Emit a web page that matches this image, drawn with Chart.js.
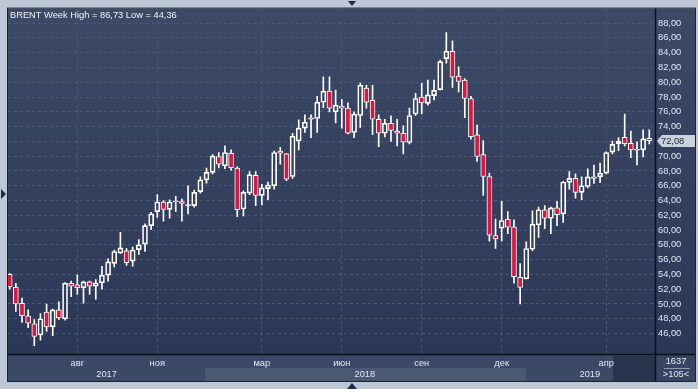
<!DOCTYPE html>
<html>
<head>
<meta charset="utf-8">
<script src="https://cdn.jsdelivr.net/npm/chart.js@4.4.0/dist/chart.umd.min.js"></script>
<style>
    html, body { margin: 0; padding: 0; background: #bdc7d5; }
    #wrap { width: 698px; height: 389px; }
</style>
</head>
<body>
<div id="wrap"><canvas id="brentChart" width="698" height="389"></canvas></div>
<script>
// ==================== BRENT WEEKLY (May 2017 - May 2019) ====================

const opens = [54.0, 52.3, 50.1, 48.4, 47.3, 45.8, 48.9, 46.9, 49.2, 48.0,
    52.8, 52.6, 52.2, 53.0, 52.4, 52.85, 53.9, 55.5, 56.9, 57.2,
    55.8, 57.35, 58.1, 60.6, 62.5, 63.8, 62.8, 63.8, 63.85, 63.3,
    63.3, 65.2, 66.8, 67.8, 69.95, 68.7, 70.4, 68.4, 62.85, 65.0,
    67.4, 64.7, 65.6, 66.0, 70.7, 70.3, 67.25, 72.05, 73.8, 75.0,
    75.1, 77.3, 78.8, 76.0, 76.75, 76.5, 73.2, 75.5, 79.2, 77.55,
    75.0, 73.1, 74.45, 73.4, 73.1, 71.85, 75.7, 78.0, 77.15, 78.2,
    79.0, 83.2, 84.2, 80.85, 80.3, 77.8, 72.9, 70.2, 67.25, 59.25,
    60.25, 61.5, 60.45, 53.6, 53.4, 57.4, 60.7, 62.75, 61.6, 63.0,
    62.2, 66.45, 67.0, 65.1, 65.9, 67.0, 67.2, 67.7, 70.55, 71.7,
    72.55, 71.75, 70.8, 70.85, 72.4];

const highs = [54.1, 52.8, 50.8, 49.2, 47.9, 48.7, 50.0, 49.3, 50.3, 52.9,
    53.1, 53.9, 53.1, 53.1, 53.3, 55.1, 56.1, 57.3, 59.7, 57.5,
    57.7, 58.7, 60.85, 62.4, 64.8, 64.0, 64.1, 64.55, 64.2, 66.0,
    65.4, 67.2, 68.4, 70.2, 70.5, 71.4, 70.85, 68.6, 65.3, 67.9,
    67.9, 66.2, 66.5, 70.7, 71.2, 70.4, 73.1, 74.9, 75.6, 75.6,
    78.1, 80.75, 80.75, 78.95, 77.7, 77.2, 76.0, 79.9, 79.6, 79.6,
    75.6, 75.0, 75.45, 75.0, 74.1, 76.5, 78.5, 79.85, 80.3, 80.3,
    83.0, 86.73, 85.6, 82.1, 80.5, 78.1, 74.2, 72.1, 67.7, 61.5,
    63.9, 62.5, 61.4, 55.45, 58.4, 62.6, 63.1, 63.3, 63.1, 63.9,
    66.6, 67.9, 67.6, 67.2, 68.3, 68.8, 69.05, 70.6, 72.05, 72.5,
    75.7, 73.4, 71.95, 73.55, 73.55];

const lows = [52.0, 49.0, 47.5, 46.8, 44.36, 45.1, 46.3, 45.7, 47.9, 47.8,
    51.0, 51.3, 50.1, 51.3, 50.6, 52.0, 53.1, 55.0, 56.8, 55.2,
    55.1, 56.7, 57.1, 60.05, 61.7, 61.2, 61.6, 62.5, 61.2, 62.2,
    63.1, 65.0, 66.35, 67.6, 68.4, 68.3, 68.1, 61.8, 61.9, 64.8,
    63.3, 63.4, 64.1, 65.55, 68.9, 66.7, 67.0, 70.85, 73.2, 72.5,
    73.2, 76.55, 76.0, 74.5, 73.8, 73.0, 72.5, 73.9, 76.5, 72.9,
    71.3, 72.6, 72.0, 71.4, 70.3, 71.65, 75.5, 75.7, 76.9, 77.6,
    78.95, 82.6, 79.3, 78.7, 75.2, 72.3, 69.3, 64.7, 58.5, 57.5,
    58.5, 59.5, 52.8, 50.0, 53.4, 57.2, 59.0, 60.2, 59.5, 60.6,
    61.05, 65.55, 64.3, 64.1, 65.7, 66.3, 66.4, 67.6, 70.3, 70.75,
    71.4, 69.8, 68.8, 69.9, 71.65];

const closes = [52.3, 50.0, 48.4, 47.4, 45.6, 48.0, 46.9, 49.2, 48.1, 52.8,
    52.4, 52.2, 53.0, 52.4, 52.85, 53.9, 55.7, 57.1, 57.6, 55.6,
    57.3, 58.0, 60.6, 62.2, 63.8, 62.8, 63.8, 63.95, 63.6, 63.45,
    65.1, 66.8, 67.8, 70.0, 68.9, 70.5, 68.45, 62.75, 65.1, 67.5,
    64.7, 65.7, 66.1, 70.5, 70.4, 66.9, 72.7, 73.8, 74.6, 75.2,
    77.3, 78.8, 76.5, 76.9, 76.5, 73.1, 75.7, 79.6, 77.3, 75.0,
    73.1, 74.45, 73.5, 73.1, 71.9, 75.5, 77.8, 77.2, 78.3, 78.9,
    82.8, 84.2, 80.7, 80.1, 77.8, 72.65, 69.95, 67.25, 59.3, 58.8,
    61.3, 60.4, 53.7, 52.25, 57.5, 60.8, 62.75, 61.6, 63.0, 62.1,
    66.5, 67.0, 65.1, 66.0, 67.2, 67.2, 67.7, 70.5, 71.6, 72.05,
    71.7, 70.85, 70.95, 72.35, 72.08];

const monthLabels = ['авг', 'ноя', 'мар', 'июн', 'сен', 'дек', 'апр'];
const monthIdx = [11, 24, 41, 54, 67, 80, 97];
const yearLabels = ['2017', '2018', '2019'];
const yearStartIdx = [0, 32, 84];
const yTicks = [46, 48, 50, 52, 54, 56, 58, 60, 62, 64, 66, 68, 70, 72, 74, 76, 78, 80, 82, 84, 86, 88];

const ROJO = '#e0143c';
const BLANCO = '#ffffff';
const TEXTO = '#dde6f3';
const FUENTE = '"Liberation Sans", Arial, sans-serif';

// armar datasets de velas
const cuerpo = [], mechaAlta = [], mechaBaja = [], colorCuerpo = [];
for (let i = 0; i < opens.length; i++) {
    const top = Math.max(opens[i], closes[i]);
    const bot = Math.min(opens[i], closes[i]);
    cuerpo.push({ x: i, y: [opens[i], closes[i]] });
    mechaAlta.push({ x: i, y: [top, highs[i]] });
    mechaBaja.push({ x: i, y: [lows[i], bot] });
    colorCuerpo.push(closes[i] < opens[i] ? ROJO : 'rgba(0,0,0,0)');
}

const fondo = {
    id: 'fondo',
    beforeDraw(chart) {
        const { ctx, chartArea: a, scales: { x } } = chart;
        const pr = a.right + 40, pb = a.bottom + 27;
        ctx.save();
        ctx.fillStyle = '#bdc7d5';
        ctx.fillRect(0, 0, chart.width, chart.height);

        const g = ctx.createLinearGradient(0, a.top, 0, a.bottom);
        g.addColorStop(0, '#3d4a66');
        g.addColorStop(1, '#2b3756');
        ctx.fillStyle = g;
        ctx.fillRect(a.left, a.top, pr - a.left, a.bottom - a.top);

        // franja inferior (meses / años)
        ctx.fillStyle = '#3c4966';
        ctx.fillRect(a.left, a.bottom, a.right - a.left, 27);
        for (let i = 0; i < yearLabels.length; i++) {
            if (i % 2 === 1) {
                const x0 = x.getPixelForValue(yearStartIdx[i] - 0.25);
                const x1 = x.getPixelForValue(yearStartIdx[i + 1] - 0.05);
                ctx.fillStyle = '#4b5873';
                ctx.fillRect(x0, a.bottom + 14, x1 - x0, 13);
            }
        }
        ctx.fillStyle = '#28344e';
        ctx.fillRect(a.right - 42, a.bottom + 2, 42, 25);
        ctx.fillStyle = '#374563';
        ctx.fillRect(a.right, a.bottom, 40, 27);
        ctx.restore();
    },
    afterDraw(chart) {
        const { ctx, chartArea: a, scales: { x, y } } = chart;
        const pr = a.right + 40, pb = a.bottom + 27;
        ctx.save();

        // lineas negras
        ctx.strokeStyle = '#0c1019';
        ctx.lineWidth = 1.5;
        ctx.beginPath();
        ctx.moveTo(a.left, a.bottom + 0.5);
        ctx.lineTo(pr, a.bottom + 0.5);
        ctx.moveTo(a.right + 0.5, a.top);
        ctx.lineTo(a.right + 0.5, pb);
        ctx.stroke();
        ctx.lineWidth = 1;
        ctx.strokeStyle = '#1c2434';
        ctx.strokeRect(a.left - 0.5, a.top - 0.5, pr - a.left + 1, pb - a.top + 1);

        // titulo
        ctx.font = '9.3px ' + FUENTE;
        ctx.fillStyle = '#eef2f8';
        ctx.textBaseline = 'middle';
        ctx.textAlign = 'left';
        ctx.fillText('BRENT Week High = 86,73 Low = 44,36', a.left + 2, a.top + 7);

        // años
        ctx.fillStyle = TEXTO;
        ctx.textAlign = 'center';
        for (let i = 0; i < yearLabels.length; i++) {
            const x0 = Math.max(a.left, x.getPixelForValue(yearStartIdx[i] - 0.25));
            const x1 = i + 1 < yearLabels.length ? x.getPixelForValue(yearStartIdx[i + 1] - 0.25) : a.right;
            ctx.fillText(yearLabels[i], (x0 + x1) / 2, a.bottom + 20);
        }

        // caja con el ultimo precio
        const last = closes[closes.length - 1];
        const py = Math.round(y.getPixelForValue(last));
        ctx.fillStyle = '#c9d1dc';
        ctx.beginPath();
        ctx.moveTo(a.right + 2, py);
        ctx.lineTo(a.right + 7, py - 6);
        ctx.lineTo(pr, py - 6);
        ctx.lineTo(pr, py + 6);
        ctx.lineTo(a.right + 7, py + 6);
        ctx.closePath();
        ctx.fill();
        ctx.fillStyle = '#1b2436';
        ctx.textAlign = 'left';
        ctx.fillText(last.toFixed(2).replace('.', ','), a.right + 6, py + 0.5);

        // caja inferior derecha
        ctx.fillStyle = '#e3e9f2';
        ctx.textAlign = 'center';
        ctx.fillText('1637', a.right + 21, a.bottom + 7.5);
        ctx.fillText('>105<', a.right + 21, a.bottom + 20);
        ctx.strokeStyle = '#8f9bb0';
        ctx.beginPath();
        ctx.moveTo(a.right + 9, a.bottom + 14.5);
        ctx.lineTo(a.right + 35, a.bottom + 14.5);
        ctx.stroke();

        // triangulos del marco
        ctx.fillStyle = '#1e2a40';
        const cx = 352;
        ctx.beginPath();
        ctx.moveTo(cx - 4, 1); ctx.lineTo(cx + 4, 1); ctx.lineTo(cx, 6); ctx.closePath(); ctx.fill();
        ctx.beginPath();
        ctx.moveTo(cx - 5, chart.height); ctx.lineTo(cx + 5, chart.height); ctx.lineTo(cx, chart.height - 6); ctx.closePath(); ctx.fill();
        ctx.beginPath();
        ctx.moveTo(1, 189); ctx.lineTo(1, 199); ctx.lineTo(6, 194); ctx.closePath(); ctx.fill();
        ctx.restore();
    }
};

new Chart(document.getElementById('brentChart'), {
    type: 'bar',
    data: {
        datasets: [
            { data: mechaAlta, backgroundColor: BLANCO, borderWidth: 0, maxBarThickness: 1, order: 1 },
            { data: mechaBaja, backgroundColor: BLANCO, borderWidth: 0, maxBarThickness: 1, order: 1 },
            { data: cuerpo, backgroundColor: colorCuerpo, borderColor: BLANCO, borderWidth: 1,
              borderSkipped: false, maxBarThickness: 5, order: 0 }
        ]
    },
    options: {
        responsive: false,
        animation: false,
        grouped: false,
        barPercentage: 1,
        categoryPercentage: 1,
        layout: { padding: { left: 8, top: 8, right: 3, bottom: 8 } },
        plugins: { legend: { display: false }, tooltip: { enabled: false } },
        scales: {
            x: {
                type: 'linear',
                min: -0.276,
                max: 104.93,
                offset: false,
                afterBuildTicks: ax => { ax.ticks = monthIdx.map(v => ({ value: v })); },
                afterFit: ax => { ax.height = 27; },
                grid: { color: '#4b5874', drawTicks: false, offset: false },
                border: { display: false, dash: [3, 3] },
                ticks: {
                    autoSkip: false,
                    maxRotation: 0,
                    color: TEXTO,
                    padding: 4,
                    font: { family: FUENTE, size: 9.3 },
                    callback: (v, i) => monthLabels[i]
                }
            },
            y: {
                position: 'right',
                min: 43.23,
                max: 89.97,
                afterBuildTicks: ax => { ax.ticks = yTicks.map(v => ({ value: v })); },
                afterFit: ax => { ax.width = 40; },
                grid: { color: '#4b5874', drawTicks: false },
                border: { display: false, dash: [3, 3] },
                ticks: {
                    color: TEXTO,
                    padding: 3,
                    font: { family: FUENTE, size: 9.3 },
                    callback: v => v.toFixed(2).replace('.', ',')
                }
            }
        }
    },
    plugins: [fondo]
});
</script>
</body>
</html>
